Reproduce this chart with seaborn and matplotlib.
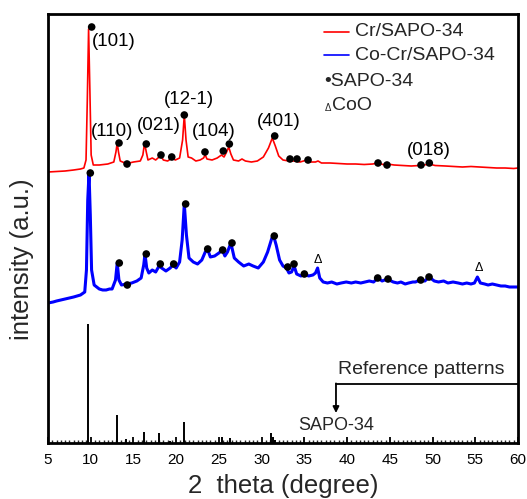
import matplotlib
matplotlib.use("Agg")
import matplotlib.pyplot as plt
from matplotlib.ticker import MultipleLocator, NullLocator
import seaborn as sns
import pandas as pd

# ---- XRD patterns (2-theta in degrees, stacked intensity in a.u.) ----
cr_theta = [5.0, 6.0, 7.0, 8.0, 8.8, 9.2, 9.45, 9.6, 9.75, 9.9, 10.05, 10.3, 11.0, 12.0,
            12.7, 12.95, 13.1, 13.25, 13.45, 14.0, 14.2, 14.5, 15.0, 15.8, 16.1, 16.3,
            16.5, 16.7, 17.2, 17.6, 18.0, 18.2, 18.5, 19.0, 19.5, 19.9, 20.4, 20.75, 20.95,
            21.15, 21.4, 21.8, 22.3, 22.8, 23.2, 23.4, 23.6, 24.2, 24.8, 25.3, 25.6, 25.9,
            26.15, 26.4, 26.7, 27.3, 27.7, 28.1, 28.8, 29.5, 30.2, 30.8, 31.25, 31.6, 32.0,
            32.5, 33.2, 33.8, 34.5, 35.3, 35.7, 36.3, 36.6, 37.0, 38.0, 39.0, 40.0, 41.0,
            42.0, 43.0, 43.6, 44.2, 44.7, 45.5, 46.5, 47.5, 48.5, 49.0, 49.6, 50.3, 51.5,
            52.5, 53.5, 54.5, 55.5, 56.5, 57.5, 58.5, 59.5, 60.0]
cr_intensity = [271, 271.5, 272, 273, 274, 275, 283, 343, 414, 353, 288, 278, 278, 279,
                281, 291, 300, 291, 282, 280, 281, 280, 281, 282, 288, 300,
                291, 283, 285, 283, 286, 287, 283, 282, 285, 283, 285, 303, 328,
                303, 286, 285, 282, 283, 285, 288, 284, 283, 285, 288, 286, 291,
                296, 289, 283, 282, 284, 282, 281, 282, 286, 295, 305, 297, 287,
                283, 282, 282, 281, 283, 281, 281, 282, 280, 280, 279.5, 279, 279,
                278.5, 279, 280, 278.5, 279, 278, 277.5, 277, 277.5, 278, 279, 277.5, 277,
                276.5, 276, 276.5, 276, 275.5, 275, 275, 274.5, 275]

cocr_theta = [5.0, 5.6, 6.0, 6.5, 7.0, 7.5, 8.0, 8.4, 8.8, 9.3, 9.5, 9.65, 9.8, 9.95, 10.1,
              10.4, 11.0, 11.4, 11.8, 12.2, 12.5, 12.9, 13.1, 13.3, 13.6, 14.2, 14.8, 15.4,
              15.9, 16.2, 16.35, 16.55, 16.8, 17.2, 17.6, 18.0, 18.3, 18.8, 19.3, 19.6,
              20.0, 20.4, 20.7, 20.95, 21.2, 21.5, 22.0, 22.5, 23.0, 23.4, 23.7, 24.0,
              24.5, 25.0, 25.4, 25.7, 26.0, 26.4, 26.8, 27.3, 27.9, 28.5, 29.0, 29.6,
              30.2, 30.7, 31.2, 31.4, 31.7, 32.1, 32.5, 32.9, 33.2, 33.5, 33.8, 34.1,
              34.6, 35.0, 35.5, 36.0, 36.3, 36.55, 36.8, 37.2, 37.7, 38.2, 38.8, 39.3,
              39.9, 40.5, 41.0, 41.6, 42.1, 42.6, 43.1, 43.6, 44.1, 44.7, 45.4, 45.9,
              46.3, 46.8, 47.2, 47.7, 48.0, 48.5, 49.1, 49.6, 50.2, 50.7, 51.3, 51.8,
              52.4, 53.0, 53.5, 54.0, 54.5, 54.9, 55.25, 55.6, 56.1, 56.5, 57.0, 57.5,
              58.0, 58.5, 59.0, 59.5, 60.0]
cocr_intensity = [140, 141, 142, 143, 144, 145, 146, 147, 148, 151, 173, 243, 270, 228, 173,
                  158, 154, 153, 153, 154, 154, 163, 180, 163, 158, 159, 160, 162,
                  165, 178, 189, 175, 170, 173, 171, 177, 175, 172, 175, 178,
                  175, 181, 203, 239, 208, 185, 181, 179, 183, 191, 193, 186,
                  187, 190, 193, 187, 191, 200, 185, 181, 177, 179, 177, 175,
                  181, 191, 205, 207, 198, 183, 177, 175, 170, 171, 177, 169,
                  167, 169, 167, 168, 170, 175, 165, 161, 160, 161, 159, 160,
                  161, 160, 161, 160, 161, 162, 161, 165, 162, 164, 161, 160,
                  161, 159, 160, 161, 161, 163, 162, 166, 162, 161, 162, 160,
                  161, 160, 159, 160, 159, 160, 166, 160, 159, 158, 159, 158,
                  157, 157, 156, 156, 156]

# SAPO-34 reflections marked on each pattern
cr_dot_theta = [10.11, 13.31, 14.25, 16.50, 18.22, 19.48, 20.95, 23.37, 25.51, 26.22,
                31.53, 33.32, 34.14, 35.43, 43.62, 44.67, 48.65, 49.62]
cr_dot_intensity = [416, 300, 279, 299, 288, 286, 328, 291, 292, 299,
                    307, 284, 284, 283, 280, 278, 278, 280]
cocr_dot_theta = [9.95, 13.34, 14.28, 16.50, 18.14, 19.71, 21.11, 23.69, 25.44, 26.53,
                  31.48, 33.05, 33.79, 35.00, 43.58, 44.79, 48.62, 49.59]
cocr_dot_intensity = [270, 180, 158, 189, 179, 179, 239, 194, 193, 200,
                      207, 176, 179, 169, 165, 164, 163, 166]

# CoO reflections on the Co-Cr/SAPO-34 pattern
coo_theta = [36.63, 55.40]
coo_intensity = [183, 175]

# SAPO-34 reference stick pattern
ref_theta = [9.65, 13.11, 14.13, 16.27, 17.99, 19.30, 20.92, 25.33, 26.30, 31.06, 31.30, 31.55]
ref_intensity = [119, 28, 4, 11, 10, 2, 21, 6, 5, 10, 6, 3]

# Miller indices labelled on the Cr/SAPO-34 pattern
hkl_labels = ["(101)", "(110)", "(021)", "(12-1)", "(104)", "(401)", "(018)"]
hkl_theta = [10.15, 10.03, 15.42, 18.57, 21.85, 29.46, 47.01]
hkl_intensity = [401, 312, 317, 343.5, 311.5, 322, 292.5]

x_ticks = [5, 10, 15, 20, 25, 30, 35, 40, 45, 50, 55, 60]

sns.set_theme(style="ticks")
plt.rcParams["font.family"] = ["Liberation Sans", "DejaVu Sans"]

fig = plt.figure(figsize=(5.27, 4.99), dpi=100)
ax = fig.add_axes([48 / 527, 1 - 443 / 499, 470 / 527, 429 / 499])

cr = pd.DataFrame({"theta": cr_theta, "intensity": cr_intensity})
cocr = pd.DataFrame({"theta": cocr_theta, "intensity": cocr_intensity})

sns.lineplot(data=cr, x="theta", y="intensity", color="#ff0000", lw=1.2, sort=False, ax=ax)
sns.lineplot(data=cocr, x="theta", y="intensity", color="#0000ff", lw=2.2, sort=False, ax=ax)

sns.scatterplot(x=cr_dot_theta, y=cr_dot_intensity, color="black", s=30,
                edgecolor="none", ax=ax, zorder=5)
sns.scatterplot(x=cocr_dot_theta, y=cocr_dot_intensity, color="black", s=30,
                edgecolor="none", ax=ax, zorder=5)

for t, i in zip(coo_theta, coo_intensity):
    ax.text(t, i, "Δ", fontsize=9, ha="center", va="center", color="black")

ax.vlines(ref_theta, 0, ref_intensity, color="black", lw=1.4)

for lab, t, i in zip(hkl_labels, hkl_theta, hkl_intensity):
    ax.text(t, i, lab, fontsize=13.5, ha="left", va="center", color="black")

# legend
ax.plot([37.24, 40.17], [411, 411], color="#ff0000", lw=1.2)
ax.plot([37.24, 40.17], [388, 388], color="#0000ff", lw=1.2)
ax.text(40.87, 411, "Cr/SAPO-34", fontsize=14, ha="left", va="center")
ax.text(40.87, 388, "Co-Cr/SAPO-34", fontsize=14, ha="left", va="center")
ax.text(37.3, 362, "•SAPO-34", fontsize=14, ha="left", va="center")
ax.text(37.35, 335, "Δ", fontsize=7, ha="left", va="center")
ax.text(38.2, 337, "CoO", fontsize=14, ha="left", va="center")

# reference-pattern callout
ax.text(38.94, 73, "Reference patterns", fontsize=14, ha="left", va="center")
ax.plot([38.70, 60], [59, 59], color="black", lw=1.3, clip_on=False)
ax.annotate("", xy=(38.70, 30), xytext=(38.70, 59.6),
            arrowprops=dict(arrowstyle="-|>", color="black", lw=1.3,
                            mutation_scale=9, shrinkA=0, shrinkB=0))
ax.text(34.26, 17, "SAPO-34", fontsize=13, ha="left", va="center")

ax.set_xlim(5, 60)
ax.set_ylim(0, 429)
ax.set_xticks(x_ticks)
ax.set_xticklabels([str(v) for v in x_ticks])
ax.xaxis.set_minor_locator(MultipleLocator(0.5))
ax.yaxis.set_major_locator(NullLocator())
ax.yaxis.set_minor_locator(NullLocator())
ax.tick_params(axis="x", which="major", direction="in", length=4, width=1.3,
               labelsize=11, pad=7, colors="black", top=False)
ax.tick_params(axis="x", which="minor", direction="in", length=2.2, width=1.0, top=False)
ax.set_xlabel("")
ax.set_ylabel("")
for sp in ax.spines.values():
    sp.set_visible(True)
    sp.set_linewidth(2.0)
    sp.set_color("black")

fig.text(283 / 527, 1 - 486 / 499, "2  theta (degree)", fontsize=18.5, ha="center", va="center")
fig.text(22 / 527, 1 - 259 / 499, "intensity (a.u.)", fontsize=18.5, ha="center",
         va="center", rotation=90)

fig.savefig("out.png", dpi=100)
